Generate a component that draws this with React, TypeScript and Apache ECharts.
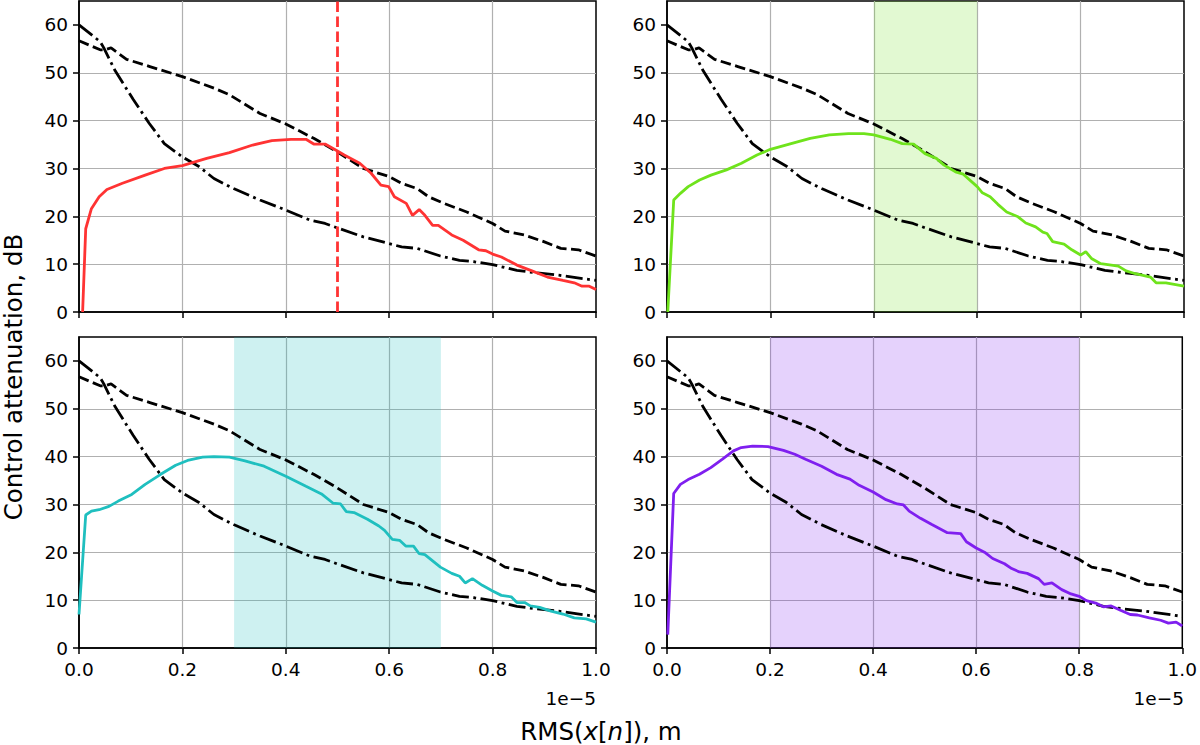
import React, { useEffect, useRef } from "react";
import * as echarts from "echarts";

// x values are in units of 1e-5 m
const xTickValues = [0, 0.2, 0.4, 0.6, 0.8, 1.0];
const yTickValues = [0, 10, 20, 30, 40, 50, 60];

const dashedX = [0, 0.041, 0.05, 0.062, 0.092, 0.137, 0.2, 0.261, 0.291, 0.35, 0.4, 0.454, 0.499, 0.55, 0.6, 0.624, 0.654, 0.676, 0.706, 0.75, 0.8, 0.824, 0.861, 0.899, 0.932, 0.966, 1.0];
const dashedY = [56.7, 54.8, 54.8, 55.2, 52.8, 51.3, 49.2, 46.8, 45.4, 41.5, 39.3, 36.3, 33.5, 30.0, 28.3, 26.9, 25.8, 24.1, 22.7, 20.9, 18.5, 16.9, 16.1, 14.7, 13.3, 13.0, 11.7];

const dashDotX = [0, 0.041, 0.048, 0.07, 0.105, 0.136, 0.165, 0.2, 0.232, 0.261, 0.299, 0.35, 0.4, 0.447, 0.476, 0.499, 0.55, 0.6, 0.624, 0.654, 0.699, 0.736, 0.765, 0.8, 0.847, 0.884, 0.928, 1.0];
const dashDotY = [60, 56.5, 55.2, 50.4, 44.4, 39.4, 35.2, 32.4, 30.4, 27.9, 25.8, 23.4, 21.3, 19.2, 18.5, 17.6, 15.7, 14.3, 13.6, 13.3, 11.7, 10.8, 10.5, 9.9, 8.7, 8.2, 7.7, 6.6];

const redX = [0.007, 0.013, 0.024, 0.039, 0.054, 0.084, 0.128, 0.165, 0.2, 0.247, 0.291, 0.336, 0.373, 0.41, 0.439, 0.454, 0.476, 0.499, 0.513, 0.543, 0.565, 0.584, 0.599, 0.61, 0.633, 0.645, 0.658, 0.669, 0.684, 0.695, 0.721, 0.743, 0.773, 0.787, 0.8, 0.817, 0.847, 0.876, 0.906, 0.936, 0.958, 0.973, 0.987, 1.0];
const redY = [0, 17.4, 21.6, 24.1, 25.6, 26.9, 28.6, 30.0, 30.6, 32.1, 33.3, 34.9, 35.8, 36.1, 36.1, 35.1, 35.1, 33.7, 32.8, 31.1, 29.0, 26.5, 26.2, 24.1, 22.7, 20.2, 21.4, 20.2, 18.1, 18.1, 16.1, 15.0, 13.0, 12.8, 12.1, 11.5, 9.8, 8.6, 7.3, 6.6, 6.1, 5.4, 5.4, 4.7];

const greenX = [0.0015, 0.013, 0.026, 0.041, 0.063, 0.085, 0.115, 0.144, 0.174, 0.2, 0.24, 0.277, 0.314, 0.351, 0.381, 0.4, 0.432, 0.455, 0.477, 0.499, 0.521, 0.536, 0.558, 0.573, 0.6, 0.61, 0.625, 0.64, 0.657, 0.679, 0.694, 0.713, 0.727, 0.735, 0.746, 0.768, 0.783, 0.8, 0.81, 0.821, 0.839, 0.873, 0.888, 0.906, 0.935, 0.946, 0.965, 1.0];
const greenY = [0, 23.4, 24.8, 26.2, 27.6, 28.6, 29.7, 31.1, 32.8, 34.0, 35.2, 36.3, 37.0, 37.3, 37.3, 37.0, 36.1, 35.2, 35.1, 33.1, 32.1, 30.7, 29.3, 28.8, 26.2, 24.9, 24.1, 22.5, 20.9, 19.9, 18.6, 17.8, 16.7, 16.4, 14.7, 14.2, 13.0, 11.9, 12.6, 11.2, 10.1, 9.6, 8.6, 8.0, 7.3, 6.1, 6.1, 5.4];

const cyanX = [0, 0.013, 0.024, 0.039, 0.058, 0.076, 0.102, 0.128, 0.158, 0.187, 0.21, 0.239, 0.261, 0.291, 0.321, 0.358, 0.4, 0.439, 0.469, 0.491, 0.506, 0.517, 0.532, 0.558, 0.58, 0.591, 0.606, 0.62, 0.632, 0.647, 0.658, 0.669, 0.699, 0.721, 0.736, 0.747, 0.761, 0.78, 0.8, 0.817, 0.836, 0.847, 0.862, 0.873, 0.891, 0.913, 0.936, 0.958, 0.981, 1.0];
const cyanY = [7.0, 27.8, 28.6, 28.9, 29.6, 30.7, 32.1, 34.2, 36.3, 38.2, 39.2, 39.9, 40.0, 39.9, 39.1, 38.0, 35.9, 33.8, 32.2, 30.3, 30.1, 28.5, 28.3, 26.9, 25.5, 24.6, 22.7, 22.5, 21.3, 21.3, 19.7, 19.5, 16.9, 15.6, 15.0, 13.6, 14.5, 13.1, 11.9, 11.0, 10.7, 9.5, 9.5, 8.8, 8.5, 7.7, 7.1, 6.3, 6.1, 5.4];

const purpleX = [0.0015, 0.013, 0.026, 0.041, 0.063, 0.085, 0.107, 0.129, 0.144, 0.166, 0.196, 0.226, 0.248, 0.27, 0.3, 0.329, 0.355, 0.373, 0.4, 0.425, 0.447, 0.459, 0.47, 0.492, 0.514, 0.544, 0.57, 0.581, 0.6, 0.618, 0.632, 0.655, 0.669, 0.684, 0.699, 0.721, 0.732, 0.747, 0.766, 0.784, 0.8, 0.814, 0.832, 0.847, 0.862, 0.88, 0.899, 0.913, 0.936, 0.958, 0.973, 0.988, 1.0];
const purpleY = [2.8, 32.3, 34.2, 35.2, 36.3, 37.7, 39.4, 41.2, 41.9, 42.2, 42.1, 41.3, 40.5, 39.4, 38.0, 36.3, 35.3, 34.0, 32.6, 31.0, 30.1, 29.9, 28.6, 27.1, 25.8, 24.1, 23.9, 22.2, 20.9, 19.9, 18.7, 17.6, 16.6, 15.9, 15.6, 14.5, 13.3, 13.6, 12.2, 11.3, 10.8, 9.9, 9.4, 8.6, 8.8, 7.9, 7.0, 6.9, 6.3, 5.8, 5.2, 5.4, 4.6];

const redLimit = [0.5];
const greenBand = [0.4, 0.6];
const cyanBand = [0.3, 0.7];
const purpleBand = [0.2, 0.8];

const zip = (xs: number[], ys: number[]) => xs.map((x, i) => [x, ys[i]]);

const FONT = "DejaVu Sans";
const LW = 2.8;

export default function App() {
  const ref = useRef<HTMLDivElement>(null);

  useEffect(() => {
    if (!ref.current) return;
    const chart = echarts.init(ref.current, undefined, { renderer: "svg" });

    const panels = [
      { color: "#ff3333", fill: "", data: zip(redX, redY), band: null as number[] | null, vline: redLimit },
      { color: "#6fe31c", fill: "rgba(111,227,28,0.2)", data: zip(greenX, greenY), band: greenBand, vline: null as number[] | null },
      { color: "#1fbfbf", fill: "rgba(31,191,191,0.22)", data: zip(cyanX, cyanY), band: cyanBand, vline: null },
      { color: "#7f1fef", fill: "rgba(127,31,239,0.2)", data: zip(purpleX, purpleY), band: purpleBand, vline: null },
    ];

    const lefts = [79, 667, 79, 667];
    const tops = [1, 1, 337, 337];

    const grids = panels.map((_, i) => ({
      left: lefts[i],
      top: tops[i],
      width: 517,
      height: 311,
      show: true,
      borderColor: "#000",
      borderWidth: 1.5,
      backgroundColor: "transparent",
      containLabel: false,
    }));

    const axisText = { fontSize: 18.5, fontFamily: FONT, color: "#000" };

    const xAxes = panels.map((_, i) => ({
      type: "value",
      gridIndex: i,
      min: 0,
      max: 1,
      interval: 0.2,
      axisLine: { show: true, lineStyle: { color: "#000", width: 1.5 } },
      axisTick: { show: true, length: 6, inside: false, lineStyle: { color: "#000", width: 1.5 } },
      axisLabel: {
        show: i >= 2,
        margin: 12,
        ...axisText,
        formatter: (v: number) => v.toFixed(1),
        customValues: xTickValues,
      },
      splitLine: { show: true, showMinLine: false, showMaxLine: false, lineStyle: { color: "#b0b0b0", width: 1.2 } },
    }));

    const yAxes = panels.map((_, i) => ({
      type: "value",
      gridIndex: i,
      min: 0,
      max: 65,
      interval: 10,
      axisLine: { show: true, lineStyle: { color: "#000", width: 1.5 } },
      axisTick: { show: true, length: 6, inside: false, lineStyle: { color: "#000", width: 1.5 }, customValues: yTickValues },
      axisLabel: { show: true, margin: 11, ...axisText, customValues: yTickValues },
      splitLine: { show: true, showMinLine: false, showMaxLine: false, lineStyle: { color: "#b0b0b0", width: 1.2 } },
    }));

    const series: any[] = [];
    panels.forEach((p, i) => {
      if (p.band) {
        series.push({
          type: "line",
          xAxisIndex: i,
          yAxisIndex: i,
          data: [],
          silent: true,
          z: 1,
          markArea: {
            silent: true,
            itemStyle: { color: p.fill },
            data: [[{ xAxis: p.band[0] }, { xAxis: p.band[1] }]],
          },
        });
      }
      series.push({
        type: "line",
        xAxisIndex: i,
        yAxisIndex: i,
        data: zip(dashedX, dashedY),
        showSymbol: false,
        symbol: "none",
        lineStyle: { color: "#000", width: LW, type: [10.5, 4.5] },
        z: 3,
      });
      series.push({
        type: "line",
        xAxisIndex: i,
        yAxisIndex: i,
        data: zip(dashDotX, dashDotY),
        showSymbol: false,
        symbol: "none",
        lineStyle: { color: "#000", width: LW, type: [17, 4.5, 2.8, 4.5] },
        z: 3,
      });
      const s: any = {
        type: "line",
        xAxisIndex: i,
        yAxisIndex: i,
        data: p.data,
        showSymbol: false,
        symbol: "none",
        lineStyle: { color: p.color, width: LW },
        z: 4,
      };
      if (p.vline) {
        s.markLine = {
          silent: true,
          symbol: ["none", "none"],
          label: { show: false },
          lineStyle: { color: p.color, width: LW, type: [10.5, 4.5] },
          data: [{ xAxis: p.vline[0] }],
        };
      }
      series.push(s);
    });

    const option: any = {
      animation: false,
      backgroundColor: "#fff",
      grid: grids,
      xAxis: xAxes,
      yAxis: yAxes,
      series,
      graphic: [
        { type: "text", x: 596, y: 698, style: { text: "1e\u22125", fontSize: 18.5, fontFamily: FONT, fill: "#000", align: "right", verticalAlign: "middle" } },
        { type: "text", x: 1184, y: 698, style: { text: "1e\u22125", fontSize: 18.5, fontFamily: FONT, fill: "#000", align: "right", verticalAlign: "middle" } },
        {
          type: "text",
          x: 601,
          y: 731,
          style: {
            text: "RMS({i|x}[{i|n}]), m",
            fontSize: 24.5,
            fontFamily: FONT,
            fill: "#000",
            align: "center",
            verticalAlign: "middle",
            rich: {
              i: { fontSize: 24.5, fontFamily: FONT, fontStyle: "italic", fill: "#000" },
            },
          },
        },
        {
          type: "text",
          x: 13,
          y: 377,
          rotation: Math.PI / 2,
          style: {
            text: "Control attenuation, dB",
            fontSize: 24.5,
            fontFamily: FONT,
            fill: "#000",
            align: "center",
            verticalAlign: "middle",
          },
        },
      ],
    };

    chart.setOption(option);
    return () => chart.dispose();
  }, []);

  return (
    <div
      ref={ref}
      style={{ position: "fixed", left: 0, top: 0, width: 1200, height: 745, background: "#fff" }}
    />
  );
}
